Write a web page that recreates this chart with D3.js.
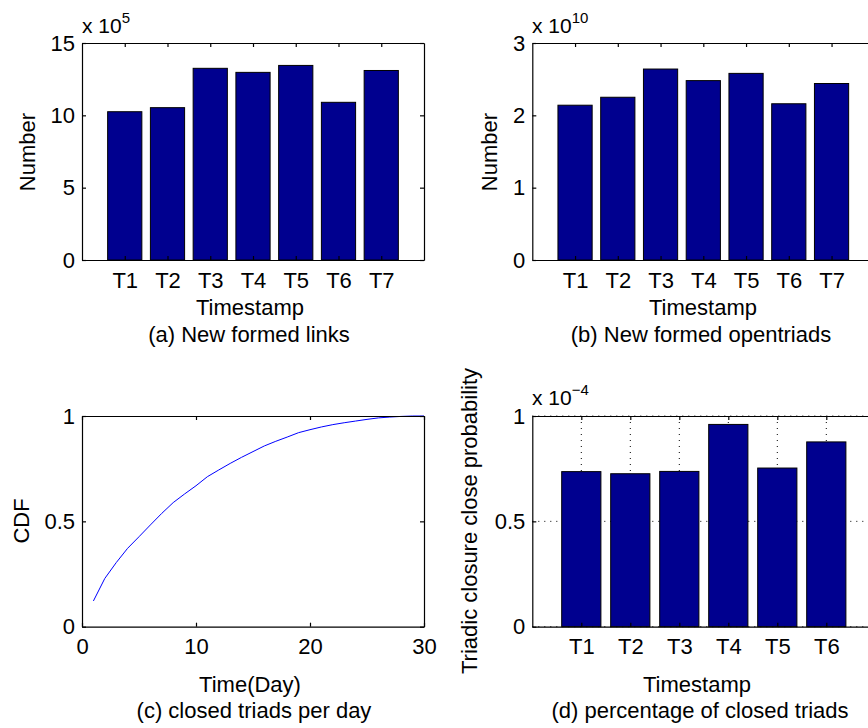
<!DOCTYPE html>
<html>
<head>
<meta charset="utf-8">
<script src="https://cdn.jsdelivr.net/npm/d3@7"></script>
<style>
  html, body { margin: 0; padding: 0; background: #fff; overflow: hidden; }
  svg { display: block; }
  svg text { font-family: "Liberation Sans", Arial, Helvetica, sans-serif; fill: #000; }
  .axis path, .axis line { stroke: #000; stroke-width: 1.2; }
  .axis text { font-size: 22px; }
  .lbl { font-size: 22px; }
</style>
</head>
<body>
<div id="chart"></div>
<script>
// (a) new formed links, x 10^5
const periods7 = ["T1", "T2", "T3", "T4", "T5", "T6", "T7"];
const newLinks = [10.25, 10.53, 13.25, 12.97, 13.45, 10.9, 13.1];
const ticksA = [0, 5, 10, 15];

// (b) new formed open triads, x 10^10
const newOpenTriads = [2.14, 2.25, 2.64, 2.48, 2.58, 2.16, 2.44];
const ticksB = [0, 1, 2, 3];

// (c) CDF of closed triads per day
const days = [1, 2, 3, 4, 5, 6, 7, 8, 9, 10, 11, 12, 13, 14, 15,
              16, 17, 18, 19, 20, 21, 22, 23, 24, 25, 26, 27, 28, 29, 30];
const cdf = [0.122, 0.229, 0.304, 0.372, 0.427, 0.483, 0.538, 0.589, 0.630, 0.669,
             0.712, 0.744, 0.775, 0.804, 0.831, 0.858, 0.880, 0.900, 0.921, 0.935,
             0.948, 0.959, 0.968, 0.976, 0.984, 0.991, 0.995, 0.998, 1.0, 1.0];
const ticksCx = [0, 10, 20, 30];
const ticksCy = [0, 0.5, 1];

// (d) triadic closure probability, x 10^-4
const periods6 = ["T1", "T2", "T3", "T4", "T5", "T6"];
const closeProb = [0.736, 0.726, 0.737, 0.96, 0.753, 0.877];
const ticksD = [0, 0.5, 1];

const W = 868, H = 728;
const barColor = "#00008f";

const svg = d3.select("#chart").append("svg")
    .attr("width", W)
    .attr("height", H);

// draws the MATLAB style box: ticks inward on all four sides
function drawFrame(g, x, y, xTicks, xFormat, yTicks, yFormat) {
    const [x0, x1] = x.range();
    const [y0, y1] = y.range();

    g.append("g").attr("class", "axis")
        .attr("transform", `translate(0,${y0})`)
        .call(d3.axisBottom(x).tickValues(xTicks).tickFormat(xFormat)
            .tickSizeInner(-4).tickSizeOuter(0).tickPadding(12));
    g.append("g").attr("class", "axis")
        .attr("transform", `translate(0,${y1})`)
        .call(d3.axisTop(x).tickValues(xTicks).tickFormat("")
            .tickSizeInner(-4).tickSizeOuter(0));
    g.append("g").attr("class", "axis")
        .attr("transform", `translate(${x0},0)`)
        .call(d3.axisLeft(y).tickValues(yTicks).tickFormat(yFormat)
            .tickSizeInner(-4).tickSizeOuter(0).tickPadding(7));
    g.append("g").attr("class", "axis")
        .attr("transform", `translate(${x1},0)`)
        .call(d3.axisRight(y).tickValues(yTicks).tickFormat("")
            .tickSizeInner(-4).tickSizeOuter(0));
    g.selectAll(".axis").attr("font-family", null).attr("font-size", null);
}

function exponentLabel(g, x, y, exp) {
    const t = g.append("text").attr("x", x).attr("y", y)
        .style("font-size", "21px");
    t.append("tspan").text("x 10");
    t.append("tspan").attr("dy", -10).style("font-size", "15px").text(exp);
}

function yLabel(g, x, y, text) {
    g.append("text").attr("class", "lbl")
        .attr("transform", `translate(${x},${y}) rotate(-90)`)
        .attr("text-anchor", "middle")
        .text(text);
}

function centerText(g, x, y, text) {
    g.append("text").attr("class", "lbl")
        .attr("x", x).attr("y", y)
        .attr("text-anchor", "middle")
        .text(text);
}

function barPanel(opts) {
    const g = svg.append("g");
    const n = opts.values.length;
    const x = d3.scaleLinear().domain([0, n + 1]).range([opts.left, opts.right]);
    const y = d3.scaleLinear().domain([0, opts.ymax]).range([opts.bottom, opts.top]);

    if (opts.grid) {
        const grid = g.append("g")
            .attr("stroke", "#000").attr("stroke-width", 1)
            .attr("stroke-dasharray", "1,5");
        grid.selectAll("line.v").data(d3.range(1, n + 1)).join("line")
            .attr("x1", d => x(d)).attr("x2", d => x(d))
            .attr("y1", opts.top).attr("y2", opts.bottom);
        grid.selectAll("line.h").data(opts.yTicks).join("line")
            .attr("x1", opts.left).attr("x2", opts.right)
            .attr("y1", d => y(d)).attr("y2", d => y(d));
    }

    g.selectAll("rect").data(opts.values).join("rect")
        .attr("x", (d, i) => x(i + 1 - 0.4))
        .attr("width", x(0.8) - x(0))
        .attr("y", d => y(d))
        .attr("height", d => y(0) - y(d))
        .attr("fill", barColor)
        .attr("stroke", "#000")
        .attr("stroke-width", 1);

    drawFrame(g, x, y, d3.range(1, n + 1), d => opts.labels[d - 1],
        opts.yTicks, d3.format("~g"));
    return g;
}

// panel (a)
const ga = barPanel({
    left: 82, right: 424, top: 43, bottom: 260,
    values: newLinks, labels: periods7, ymax: 15, yTicks: ticksA
});
exponentLabel(ga, 82, 33, "5");
yLabel(ga, 35, 152, "Number");
centerText(ga, 250, 315, "Timestamp");
centerText(ga, 249, 342, "(a) New formed links");

// panel (b)
const gb = barPanel({
    left: 532.3, right: 874.3, top: 43, bottom: 260,
    values: newOpenTriads, labels: periods7, ymax: 3, yTicks: ticksB
});
exponentLabel(gb, 532, 33, "10");
yLabel(gb, 497, 152, "Number");
centerText(gb, 703, 315, "Timestamp");
centerText(gb, 701, 342, "(b) New formed opentriads");

// panel (c)
const gc = svg.append("g");
const xc = d3.scaleLinear().domain([0, 30]).range([82, 424]);
const yc = d3.scaleLinear().domain([0, 1]).range([626.7, 416]);
gc.append("path")
    .datum(days.map((d, i) => [d, cdf[i]]))
    .attr("fill", "none")
    .attr("stroke", "#0000ff")
    .attr("stroke-width", 1)
    .attr("d", d3.line().x(d => xc(d[0])).y(d => yc(d[1])));
drawFrame(gc, xc, yc, ticksCx, d3.format("~g"), ticksCy, d3.format("~g"));
yLabel(gc, 29, 521, "CDF");
centerText(gc, 250, 692, "Time(Day)");
centerText(gc, 254, 718, "(c) closed triads per day");

// panel (d)
const gd = barPanel({
    left: 532.3, right: 875.3, top: 416, bottom: 626.7,
    values: closeProb, labels: periods6, ymax: 1, yTicks: ticksD, grid: true
});
exponentLabel(gd, 532, 405, "\u22124");
yLabel(gd, 477, 521, "Triadic closure close probability");
centerText(gd, 697, 692, "Timestamp");
centerText(gd, 700, 718, "(d) percentage of closed triads");
</script>
</body>
</html>
